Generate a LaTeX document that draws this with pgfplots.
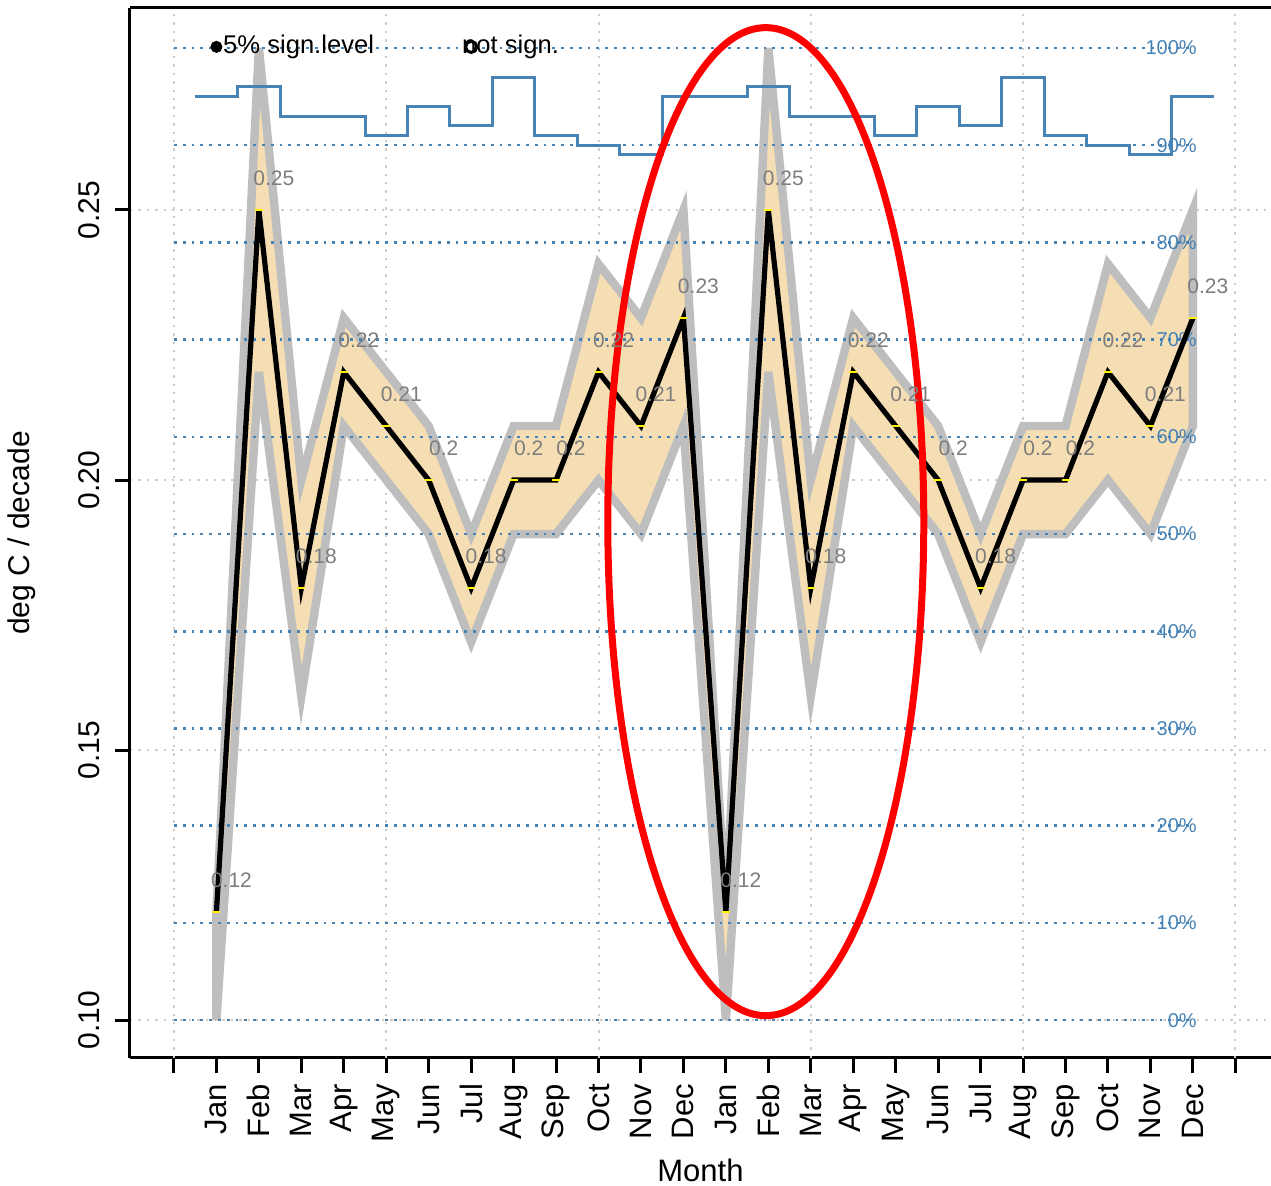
\documentclass[border=0pt]{standalone}
\usepackage{pgfplots}
\pgfplotsset{compat=1.18}
\usepackage{fontspec}
\setmainfont{Liberation Sans}
\usetikzlibrary{calc}
\definecolor{steel}{RGB}{70,130,180}
\definecolor{wheat}{RGB}{245,222,179}
\definecolor{bandgrey}{RGB}{190,190,190}
\definecolor{gridgrey}{RGB}{205,205,205}
\definecolor{labgrey}{RGB}{125,125,125}
\begin{document}
\begin{tikzpicture}
\begin{axis}[
  scale only axis, width=570.5pt, height=525pt,
  xmin=-1.036, xmax=25.84, ymin=0.093, ymax=0.2874,
  axis x line*=bottom, axis y line*=left,
  axis line style={line width=1.5pt, -},
  /pgf/number format/assume math mode=true,
  xtick={0,...,25},
  xticklabels={{},Jan,Feb,Mar,Apr,May,Jun,Jul,Aug,Sep,Oct,Nov,Dec,Jan,Feb,Mar,Apr,May,Jun,Jul,Aug,Sep,Oct,Nov,Dec,{}},
  ytick={0.10,0.15,0.20,0.25},
  yticklabel style={/pgf/number format/fixed, /pgf/number format/fixed zerofill, /pgf/number format/precision=2, rotate=90, anchor=south, font=\fontsize{15}{17}\selectfont},
  yticklabel shift=4pt,
  xticklabel style={rotate=90, anchor=east, font=\fontsize{15.5}{17}\selectfont},
  xticklabel shift=2pt,
  tick align=outside, major tick length=7.5pt,
  tick style={line width=1.5pt, black},
  ymajorgrids, major grid style={gridgrey, line width=1pt, dash pattern=on 1.2pt off 3pt},
  xlabel={Month}, ylabel={deg C / decade},
  xlabel style={at={(rel axis cs:0.5,0)}, anchor=center, yshift=-56pt, font=\fontsize{15.5}{18}\selectfont},
  ylabel style={at={(rel axis cs:0,0.5)}, anchor=center, yshift=54pt, font=\fontsize{15}{18}\selectfont},
  clip=false,
]
% vertical grid lines
\pgfplotsinvokeforeach{0,5,10,15,20,25}{
  \draw[gridgrey, line width=1pt, dash pattern=on 1.2pt off 3pt] (axis cs:#1,0.093) -- (axis cs:#1,0.2874);
}
% confidence band
\addplot[fill=wheat, draw=bandgrey, line width=4.2pt, line join=miter] coordinates {
(1,0.12) (2,0.28) (3,0.20) (4,0.23) (5,0.22) (6,0.21) (7,0.19) (8,0.21) (9,0.21) (10,0.24) (11,0.23) (12,0.25)
(13,0.12) (14,0.28) (15,0.20) (16,0.23) (17,0.22) (18,0.21) (19,0.19) (20,0.21) (21,0.21) (22,0.24) (23,0.23) (24,0.25)
(24,0.21) (23,0.19) (22,0.20) (21,0.19) (20,0.19) (19,0.17) (18,0.19) (17,0.20) (16,0.21) (15,0.16) (14,0.22) (13,0.10)
(12,0.21) (11,0.19) (10,0.20) (9,0.19) (8,0.19) (7,0.17) (6,0.19) (5,0.20) (4,0.21) (3,0.16) (2,0.22) (1,0.10)
} -- cycle;
% percentage reference lines
\pgfplotsinvokeforeach{0,10,...,100}{
  \draw[steel, line width=1.3pt, dash pattern=on 1.4pt off 3pt] (axis cs:0,{0.1+0.0018*#1}) -- (axis cs:24,{0.1+0.0018*#1});
  \node[anchor=east, text=steel, font=\fontsize{10}{12}\selectfont, inner sep=0pt] at (axis cs:24.1,{0.1+0.0018*#1}) {#1\%};
}
% significance step line
\addplot[const plot mark left, steel, line width=1.5pt] table[x=x, y expr=0.1+0.0018*\thisrow{p}] {
x p
0.5 95
1.5 96
2.5 93
3.5 93
4.5 91
5.5 94
6.5 92
7.5 97
8.5 91
9.5 90
10.5 89
11.5 95
12.5 95
13.5 96
14.5 93
15.5 93
16.5 91
17.5 94
18.5 92
19.5 97
20.5 91
21.5 90
22.5 89
23.5 95
24.5 95
};
% trend line
\addplot[black, line width=2.6pt, line join=miter, nodes near coords, point meta=explicit symbolic,
  every node near coord/.style={text=labgrey, font=\fontsize{10.5}{12}\selectfont, anchor=center, xshift=7.5pt, yshift=16pt}]
  table[x=x, y=y, meta=lab] {
x y lab
1 0.12 0.12
2 0.25 0.25
3 0.18 0.18
4 0.22 0.22
5 0.21 0.21
6 0.20 0.2
7 0.18 0.18
8 0.20 0.2
9 0.20 0.2
10 0.22 0.22
11 0.21 0.21
12 0.23 0.23
13 0.12 0.12
14 0.25 0.25
15 0.18 0.18
16 0.22 0.22
17 0.21 0.21
18 0.20 0.2
19 0.18 0.18
20 0.20 0.2
21 0.20 0.2
22 0.22 0.22
23 0.21 0.21
24 0.23 0.23
};
% yellow markers
\addplot[only marks, mark=-, mark size=2pt, yellow, mark options={line width=0.8pt}] coordinates {
(1,0.12) (2,0.25) (3,0.18) (4,0.22) (5,0.21) (6,0.20) (7,0.18) (8,0.20) (9,0.20) (10,0.22) (11,0.21) (12,0.23)
(13,0.12) (14,0.25) (15,0.18) (16,0.22) (17,0.21) (18,0.20) (19,0.18) (20,0.20) (21,0.20) (22,0.22) (23,0.21) (24,0.23)
};
% legend
\addplot[only marks, mark=*, mark size=2.8pt, black] coordinates {(1,0.2802)};
\addplot[only marks, mark=o, mark size=2.8pt, black, mark options={line width=1.5pt}] coordinates {(7,0.2802)};
\node[anchor=west, inner sep=0pt, font=\fontsize{12.8}{14}\selectfont] at (axis cs:1.15,0.2802) {5\% sign.level};
\node[anchor=west, inner sep=0pt, font=\fontsize{12.8}{14}\selectfont] at (axis cs:6.78,0.2802) {not sign.};
% top border
\draw[line width=1.5pt] (rel axis cs:0,1) -- (rel axis cs:1,1);
% ellipse
\draw[red, line width=3.5pt] (axis cs:13.94,0.1923) ellipse [x radius=79pt, y radius=247pt];
\coordinate (axbl) at (rel axis cs:0,0);
\coordinate (axtr) at (rel axis cs:1,1);
\end{axis}
\pgfresetboundingbox
\path ($(axbl)+(-65pt,-64pt)$) rectangle ($(axtr)+(0pt,4pt)$);
\end{tikzpicture}
\end{document}
